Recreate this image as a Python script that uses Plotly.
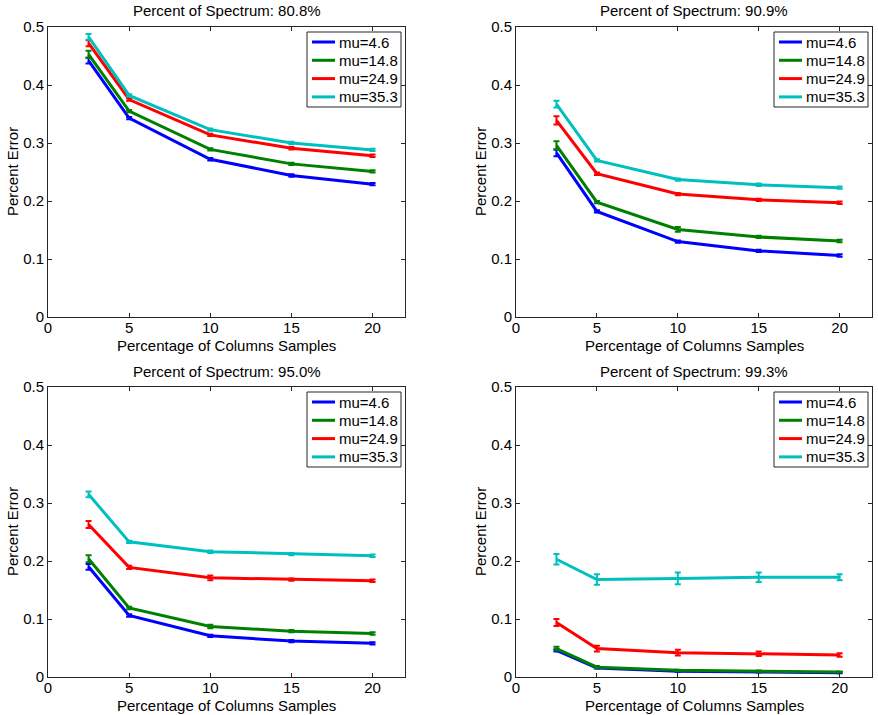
import plotly.graph_objects as go

x_samples = [2.5, 5, 10, 15, 20]
mu_labels = ["mu=4.6", "mu=14.8", "mu=24.9", "mu=35.3"]
colors = ["#0000FF", "#008000", "#FF0000", "#00BFBF"]
spectrum_titles = ["Percent of Spectrum: 80.8%", "Percent of Spectrum: 90.9%",
                   "Percent of Spectrum: 95.0%", "Percent of Spectrum: 99.3%"]
x_title = "Percentage of Columns Samples"
y_title = "Percent Error"

# Panel 1: 80.8%
p1_mu46 = [0.442, 0.343, 0.272, 0.244, 0.229]
p1_mu148 = [0.453, 0.355, 0.289, 0.264, 0.251]
p1_mu249 = [0.472, 0.375, 0.314, 0.291, 0.278]
p1_mu353 = [0.483, 0.382, 0.323, 0.300, 0.288]
p1_err46 = [0.005, 0.002, 0.002, 0.002, 0.002]
p1_err148 = [0.006, 0.002, 0.002, 0.002, 0.002]
p1_err249 = [0.005, 0.002, 0.002, 0.002, 0.002]
p1_err353 = [0.005, 0.002, 0.002, 0.002, 0.002]

# Panel 2: 90.9%
p2_mu46 = [0.283, 0.182, 0.130, 0.114, 0.106]
p2_mu148 = [0.296, 0.198, 0.151, 0.138, 0.131]
p2_mu249 = [0.339, 0.247, 0.212, 0.202, 0.197]
p2_mu353 = [0.367, 0.270, 0.237, 0.228, 0.223]
p2_err46 = [0.006, 0.002, 0.002, 0.002, 0.002]
p2_err148 = [0.007, 0.002, 0.004, 0.002, 0.002]
p2_err249 = [0.007, 0.002, 0.002, 0.002, 0.002]
p2_err353 = [0.006, 0.002, 0.002, 0.002, 0.002]

# Panel 3: 95.0%
p3_mu46 = [0.190, 0.106, 0.071, 0.062, 0.058]
p3_mu148 = [0.204, 0.119, 0.087, 0.079, 0.075]
p3_mu249 = [0.263, 0.189, 0.171, 0.168, 0.166]
p3_mu353 = [0.315, 0.233, 0.216, 0.212, 0.209]
p3_err46 = [0.005, 0.002, 0.002, 0.002, 0.002]
p3_err148 = [0.006, 0.002, 0.003, 0.002, 0.002]
p3_err249 = [0.006, 0.003, 0.004, 0.002, 0.002]
p3_err353 = [0.005, 0.002, 0.002, 0.002, 0.002]

# Panel 4: 99.3%
p4_mu46 = [0.046, 0.0155, 0.010, 0.0086, 0.0075]
p4_mu148 = [0.049, 0.017, 0.0115, 0.010, 0.0086]
p4_mu249 = [0.094, 0.049, 0.042, 0.040, 0.038]
p4_mu353 = [0.203, 0.168, 0.170, 0.172, 0.172]
p4_err46 = [0.002, 0.001, 0.001, 0.001, 0.001]
p4_err148 = [0.003, 0.002, 0.001, 0.001, 0.001]
p4_err249 = [0.006, 0.005, 0.005, 0.004, 0.003]
p4_err353 = [0.009, 0.009, 0.010, 0.008, 0.005]

panels = [
    ([p1_mu46, p1_mu148, p1_mu249, p1_mu353], [p1_err46, p1_err148, p1_err249, p1_err353]),
    ([p2_mu46, p2_mu148, p2_mu249, p2_mu353], [p2_err46, p2_err148, p2_err249, p2_err353]),
    ([p3_mu46, p3_mu148, p3_mu249, p3_mu353], [p3_err46, p3_err148, p3_err249, p3_err353]),
    ([p4_mu46, p4_mu148, p4_mu249, p4_mu353], [p4_err46, p4_err148, p4_err249, p4_err353]),
]

W, H = 878, 715
FONT = "Liberation Sans, Arial, sans-serif"
AX = "#262626"

# axes boxes in pixels (left, right, top, bottom)
boxes = [(48, 405, 27, 317), (516, 872, 27, 317), (48, 405, 387, 677), (516, 872, 387, 677)]

fig = go.Figure()
layout = dict(
    width=W, height=H, margin=dict(l=0, r=0, t=0, b=0, autoexpand=False),
    paper_bgcolor="white", plot_bgcolor="white",
    font=dict(family=FONT, size=15, color="black"),
    showlegend=False,
    annotations=[], shapes=[],
)

for i, ((series, errs), box) in enumerate(zip(panels, boxes)):
    n = i + 1
    xa = "x" if n == 1 else f"x{n}"
    ya = "y" if n == 1 else f"y{n}"
    for vals, err, name, col in zip(series, errs, mu_labels, colors):
        fig.add_trace(go.Scatter(
            x=x_samples, y=vals, name=name, mode="lines",
            line=dict(color=col, width=3),
            error_y=dict(type="data", array=err, visible=True, color=col,
                         thickness=2, width=3),
            xaxis=xa, yaxis=ya,
        ))
    l, r, t, b = box
    xdom = [l / W, r / W]
    ydom = [1 - b / H, 1 - t / H]
    axis_common = dict(showline=True, linecolor=AX, linewidth=1, mirror="ticks",
                       ticks="inside", ticklen=4, tickcolor=AX, showgrid=False,
                       zeroline=False, automargin=False,
                       tickfont=dict(size=15, family=FONT))
    layout["xaxis" if n == 1 else f"xaxis{n}"] = dict(
        domain=xdom, range=[0, 22], tickvals=[0, 5, 10, 15, 20],
        anchor=ya, ticklabelstandoff=-3, **axis_common)
    layout["yaxis" if n == 1 else f"yaxis{n}"] = dict(
        domain=ydom, range=[0, 0.5], tickvals=[0, 0.1, 0.2, 0.3, 0.4, 0.5],
        ticktext=["0", "0.1", "0.2", "0.3", "0.4", "0.5"], anchor=xa,
        **axis_common)
    # panel title
    layout["annotations"].append(dict(
        text=spectrum_titles[i], x=(l + r) / 2 / W, y=1 - (t - 16) / H,
        xref="paper", yref="paper", xanchor="center", yanchor="middle",
        showarrow=False, font=dict(size=15, family=FONT)))
    # axis titles
    layout["annotations"].append(dict(
        text=x_title, x=(l + r) / 2 / W, y=1 - (b + 28) / H,
        xref="paper", yref="paper", xanchor="center", yanchor="middle",
        showarrow=False, font=dict(size=15, family=FONT)))
    layout["annotations"].append(dict(
        text=y_title, x=(l - 36) / W, y=1 - (t + b) / 2 / H, textangle=-90,
        xref="paper", yref="paper", xanchor="center", yanchor="middle",
        showarrow=False, font=dict(size=15, family=FONT)))

    # legend box (MATLAB-style, inside the axes, top-right)
    bl, br, bt, bb = r - 98, r - 4, t + 5, t + 80
    layout["shapes"].append(dict(
        type="rect", xref="paper", yref="paper",
        x0=bl / W, x1=br / W, y0=1 - bb / H, y1=1 - bt / H,
        line=dict(color=AX, width=1), fillcolor="white", layer="above"))
    for k, (name, col) in enumerate(zip(mu_labels, colors)):
        yy = bt + 10 + k * 18.3
        layout["shapes"].append(dict(
            type="line", xref="paper", yref="paper",
            x0=(bl + 5) / W, x1=(bl + 28) / W, y0=1 - yy / H, y1=1 - yy / H,
            line=dict(color=col, width=3), layer="above"))
        layout["annotations"].append(dict(
            text=name, x=(bl + 30) / W, y=1 - yy / H,
            xref="paper", yref="paper", xanchor="left", yanchor="middle",
            showarrow=False, font=dict(size=15, family=FONT, color="black")))

fig.update_layout(**layout)
fig.write_html("out.html")
